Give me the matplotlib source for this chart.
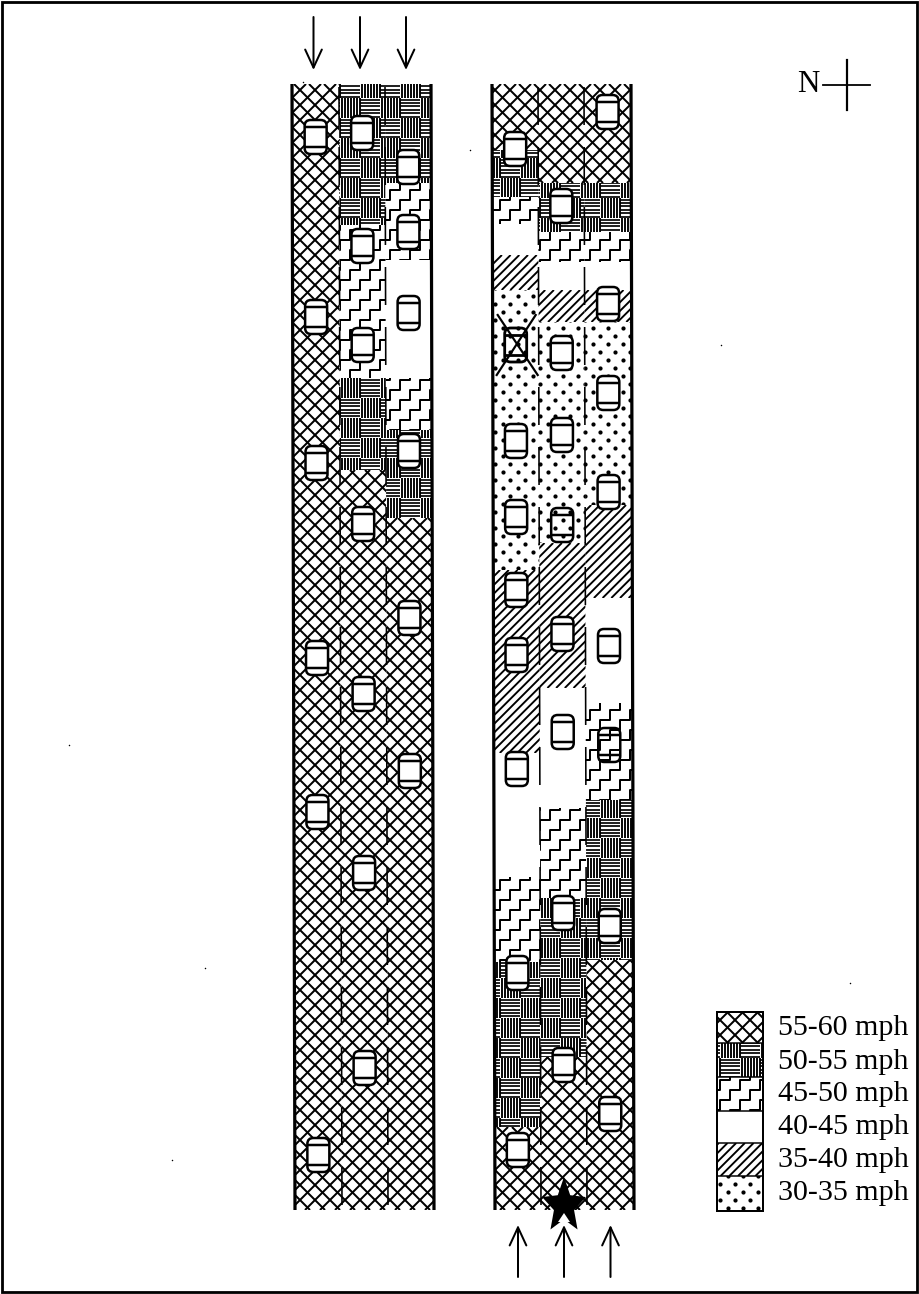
import matplotlib
matplotlib.use("Agg")
import matplotlib.pyplot as plt
import numpy as np
from matplotlib.collections import LineCollection
from matplotlib.patches import FancyBboxPatch, Polygon, Rectangle

plt.rcParams["font.family"] = ["Liberation Serif", "DejaVu Serif"]
plt.rcParams["lines.scale_dashes"] = False

# speed classes, 0 = fastest
SPEED_LABELS = ["55-60 mph", "50-55 mph", "45-50 mph", "40-45 mph", "35-40 mph", "30-35 mph"]
CROSS, BASKET, STAIRS, BLANK, DIAG, DOTS = range(6)

# the two roads, lanes left to right: y boundaries and class between them
WEST_0_Y = [84, 1210]
WEST_0_CLASS = [CROSS]
WEST_1_Y = [84, 225, 378, 470, 1210]
WEST_1_CLASS = [BASKET, STAIRS, BASKET, CROSS]
WEST_2_Y = [84, 183, 260, 378, 430, 518, 1210]
WEST_2_CLASS = [BASKET, STAIRS, BLANK, STAIRS, BASKET, CROSS]

EAST_0_Y = [84, 150, 197, 224, 255, 290, 570, 753, 877, 962, 1127, 1210]
EAST_0_CLASS = [CROSS, BASKET, STAIRS, BLANK, DIAG, DOTS, DIAG, BLANK, STAIRS, BASKET, CROSS]
EAST_1_Y = [84, 183, 232, 262, 290, 322, 543, 688, 808, 898, 1057, 1210]
EAST_1_CLASS = [CROSS, BASKET, STAIRS, BLANK, DIAG, DOTS, DIAG, BLANK, STAIRS, BASKET, CROSS]
EAST_2_Y = [84, 183, 232, 262, 290, 322, 505, 598, 703, 800, 960, 1210]
EAST_2_CLASS = [CROSS, BASKET, STAIRS, BLANK, DIAG, DOTS, DIAG, BLANK, STAIRS, BASKET, CROSS]

# vehicles, y position along each lane
WEST_CARS = [
    [137, 317, 463, 658, 812, 1155],
    [133, 246, 345, 524, 694, 873, 1068],
    [167, 232, 313, 451, 618, 771],
]
EAST_CARS = [
    [149, 441, 517, 590, 655, 769, 973, 1150],
    [206, 353, 435, 634, 732, 913, 1065],
    [112, 304, 393, 492, 646, 926, 1114],
]
# vehicles drawn without fill (lane, y)
OPEN_CARS = [(1, 525), (2, 745)]
CRASH_LANE, CRASH_Y = 0, 345

SPECKS_X = [470, 721, 69, 205, 850, 172, 303]
SPECKS_Y = [150, 345, 745, 968, 983, 1160, 82]

WEST_EDGES = [292, 339, 385, 431]
EAST_EDGES = [492, 538, 584, 631]
TOP, BOTTOM = 84, 1210
SKEW = 3 / (BOTTOM - TOP)


def px(v):
    return v * 0.72


def road_x(x, y):
    return x + (y - TOP) * SKEW


def pattern_lines(kind, x0, y0, x1, y1):
    """Hatch strokes covering a box, anchored on the page so neighbours line up."""
    if kind == CROSS:
        d = 15.0
        segs = []
        # lines x + y = c and x - y = c
        for c in np.arange(np.floor((x0 + y0) / d) * d, x1 + y1 + d, d):
            segs.append([(c - y0, y0), (c - y1, y1)])
        for c in np.arange(np.floor((x0 - y1) / d) * d, x1 - y0 + d, d):
            segs.append([(c + y0, y0), (c + y1, y1)])
        return [(segs, 2.0)]
    if kind == DIAG:
        d = 8.7
        segs = [[(c - y0, y0), (c - y1, y1)]
                for c in np.arange(np.floor((x0 + y0) / d) * d, x1 + y1 + d, d)]
        return [(segs, 1.9)]
    if kind == STAIRS:
        s = 10.0
        segs = []
        start = np.floor(x0 / s) * s - s
        for c in np.arange(np.floor((y0 + x0) / 20) * 20, y1 + x1 + 40, 20):
            x, y = start, c - start
            pts = [(x, y)]
            while x < x1 + s:
                x += s
                pts.append((x, y))
                y -= s
                pts.append((x, y))
            segs.append(pts)
        return [(segs, 2.0)]
    if kind == BASKET:
        size = 20.0
        h_segs, v_segs = [], []
        ci = np.floor(x0 / size)
        while ci * size < x1:
            cj = np.floor((y0 - 18) / size)
            while cj * size + 18 < y1:
                cx, cy = ci * size, cj * size + 18
                if (int(ci) + int(cj)) % 2 == 0:
                    for yy in np.arange(cy + 1.5, cy + size, 3.4):
                        h_segs.append([(cx, yy), (cx + size, yy)])
                else:
                    for xx in np.arange(cx + 1.5, cx + size, 3.0):
                        v_segs.append([(xx, cy), (xx, cy + size)])
                cj += 1
            ci += 1
        return [(h_segs, 1.7), (v_segs, 1.9)]
    return []


def fill_box(ax, kind, corners):
    """Fill a quadrilateral with the hatch of one speed class."""
    poly = Polygon(corners, closed=True, facecolor="white", edgecolor="none", zorder=1)
    ax.add_patch(poly)
    xs = [p[0] for p in corners]
    ys = [p[1] for p in corners]
    x0, x1, y0, y1 = min(xs), max(xs), min(ys), max(ys)
    if kind == DOTS:
        rows = np.arange(np.floor(y0 / 8) * 8, y1 + 8, 8)
        for row in rows:
            shift = 7.5 if int(row / 8) % 2 else 0
            cols = np.arange(np.floor(x0 / 15) * 15 + shift, x1 + 15, 15)
            pts = ax.scatter(cols, [row] * len(cols), s=px(4.2) ** 2, c="black", linewidths=0, zorder=2)
            pts.set_clip_path(poly)
        return
    for segs, lw in pattern_lines(kind, x0, y0, x1, y1):
        col = LineCollection(segs, colors="black", linewidths=px(lw), zorder=2, capstyle="butt")
        ax.add_collection(col)
        col.set_clip_path(poly)


def draw_lane(ax, left, right, bounds, classes):
    for k, (top, bot) in enumerate(zip(bounds[:-1], bounds[1:])):
        corners = [
            (road_x(left, top), top),
            (road_x(right, top), top),
            (road_x(right, bot), bot),
            (road_x(left, bot), bot),
        ]
        fill_box(ax, classes[k], corners)


def draw_car(ax, x, y, filled=True, lw=2.5):
    w, h = 22, 34
    face = "white" if filled else "none"
    ax.add_patch(FancyBboxPatch((x - w / 2 + 6, y - h / 2 + 6), w - 12, h - 12,
                                boxstyle="round,pad=6,rounding_size=6",
                                facecolor=face, edgecolor="black", linewidth=px(lw), zorder=5))
    for off in (-0.3, 0.3):
        ax.plot([x - w / 2, x + w / 2], [y + off * h, y + off * h], color="black", lw=px(lw), zorder=6,
                solid_capstyle="butt")


def draw_road(ax, edges, lane_data, cars):
    for i, (bounds, classes) in enumerate(lane_data):
        draw_lane(ax, edges[i], edges[i + 1], bounds, classes)
    # outer edges
    for e in (edges[0], edges[3]):
        ax.plot([road_x(e, TOP), road_x(e, BOTTOM)], [TOP, BOTTOM], color="black", lw=px(3.2),
                solid_capstyle="butt", zorder=4)
    # dashed lane lines
    for e in edges[1:3]:
        ax.plot([road_x(e, TOP), road_x(e, BOTTOM)], [TOP, BOTTOM], color="black", lw=px(1.6),
                dash_capstyle="butt", linestyle=(px(57), (px(38), px(22))), zorder=4)
    for i, ys in enumerate(cars):
        xc = (edges[i] + edges[i + 1]) / 2
        for y in ys:
            draw_car(ax, road_x(xc, y), y)


def flow_arrow(ax, x, tail, tip):
    ax.annotate("", xy=(x, tip), xytext=(x, tail),
                arrowprops=dict(arrowstyle="->,head_length=1.3,head_width=0.6", mutation_scale=10,
                                lw=px(2), color="black", shrinkA=0, shrinkB=0), zorder=9)


def star_outline(xc, yc, rx, ry):
    ang = np.deg2rad(np.arange(10) * 36 - 90)
    rad = np.where(np.arange(10) % 2 == 0, 1.0, 0.46)
    return np.column_stack([xc + rx * rad * np.cos(ang), yc + ry * rad * np.sin(ang)])


def main():
    fig = plt.figure(figsize=(9.19, 12.94), dpi=100, facecolor="white")
    ax = fig.add_axes([0, 0, 1, 1])
    ax.set_xlim(0, 919)
    ax.set_ylim(1294, 0)
    ax.axis("off")

    # page frame
    ax.add_patch(Rectangle((2, 1.5), 915, 1290.5, fill=False, edgecolor="black", linewidth=px(2.8)))
    ax.scatter(SPECKS_X, SPECKS_Y, s=px(1.5) ** 2, c="black", linewidths=0)

    draw_road(ax, WEST_EDGES,
              [(WEST_0_Y, WEST_0_CLASS), (WEST_1_Y, WEST_1_CLASS), (WEST_2_Y, WEST_2_CLASS)], WEST_CARS)
    draw_road(ax, EAST_EDGES,
              [(EAST_0_Y, EAST_0_CLASS), (EAST_1_Y, EAST_1_CLASS), (EAST_2_Y, EAST_2_CLASS)], EAST_CARS)

    # cars the hatch shows through
    for lane, y in OPEN_CARS:
        xc = (EAST_EDGES[lane] + EAST_EDGES[lane + 1]) / 2
        draw_car(ax, road_x(xc, y), y, filled=False)

    # crashed vehicle
    xc = road_x((EAST_EDGES[CRASH_LANE] + EAST_EDGES[CRASH_LANE + 1]) / 2, CRASH_Y)
    draw_car(ax, xc, CRASH_Y, filled=False, lw=2.8)
    ax.plot([xc - 18, xc + 22], [CRASH_Y - 30, CRASH_Y + 30], color="black", lw=px(2.2), zorder=7)
    ax.plot([xc + 20, xc - 19], [CRASH_Y - 30, CRASH_Y + 30], color="black", lw=px(2.2), zorder=7)

    # traffic direction
    for i in range(3):
        xc = (WEST_EDGES[i] + WEST_EDGES[i + 1]) / 2 - 2
        flow_arrow(ax, xc, 17, 70)
        xc = road_x((EAST_EDGES[i] + EAST_EDGES[i + 1]) / 2, BOTTOM)
        flow_arrow(ax, xc, 1277, 1225)

    # incident star
    xs = road_x((EAST_EDGES[1] + EAST_EDGES[2]) / 2, BOTTOM)
    ax.add_patch(Polygon(star_outline(xs, 1206, 23, 29), facecolor="black", edgecolor="none", zorder=8))
    ax.add_patch(Polygon([(xs - 6, 1222), (xs + 6, 1222), (xs, 1213)], facecolor="white", edgecolor="none",
                         zorder=8.5))

    # north sign
    ax.text(797, 84, "N", fontsize=px(31), ha="left", va="center")
    ax.plot([823, 870], [85, 85], color="black", lw=px(1.8))
    ax.plot([847, 847], [60, 110], color="black", lw=px(2.2))

    # legend
    box_edges = [1012, 1043, 1077, 1111, 1143, 1176, 1211]
    label_y = [1028, 1062, 1094, 1127, 1160, 1193]
    for k, label in enumerate(SPEED_LABELS):
        top, bot = box_edges[k], box_edges[k + 1]
        fill_box(ax, k, [(717, top), (763, top), (763, bot), (717, bot)])
        ax.plot([717, 763], [bot, bot], color="black", lw=px(1.5), zorder=4)
        ax.text(778, label_y[k], label, fontsize=px(30), ha="left", va="center")
    ax.add_patch(Rectangle((717, 1012), 46, 199, fill=False, edgecolor="black", linewidth=px(2), zorder=4))

    fig.savefig("out.png", dpi=100)


if __name__ == "__main__":
    main()
